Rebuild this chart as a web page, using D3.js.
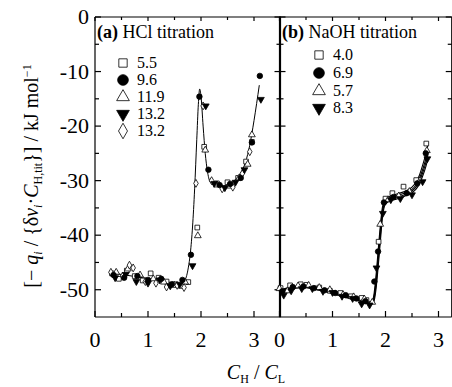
<!DOCTYPE html>
<html>
<head>
<meta charset="utf-8">
<script src="https://cdn.jsdelivr.net/npm/d3@7"></script>
<style>
  body { margin: 0; background: #fff; }
  svg, svg text { font-family: "Liberation Serif", "Times New Roman", Times, serif; }
  text { fill: #000; }
</style>
</head>
<body>
<div id="chart"></div>
<script>
// ---- data ----
const yTicks = [0, -10, -20, -30, -40, -50];
const xTicks = [0, 1, 2, 3];

// (a) HCl titration
const hclLegend = ["5.5", "9.6", "11.9", "13.2", "13.2"];
const hclFitX = [0.3, 0.5, 0.7, 0.9, 1.1, 1.3, 1.5, 1.62, 1.7, 1.76, 1.8, 1.84, 1.88, 1.92, 1.95, 1.975, 2.0, 2.04, 2.08, 2.12, 2.17, 2.25, 2.35, 2.45, 2.55, 2.65, 2.75, 2.84, 2.92, 3.0, 3.1];
const hclFitY = [-47.0, -47.2, -47.5, -47.8, -48.1, -48.4, -48.8, -48.9, -48.2, -46.0, -43.2, -38.5, -31.5, -22.5, -16.0, -13.2, -14.5, -20.0, -25.0, -28.2, -30.2, -30.9, -31.1, -30.9, -30.5, -29.8, -28.6, -26.6, -23.5, -19.0, -12.5];

const hclSqX = [0.32, 0.45, 0.6, 0.75, 0.9, 1.05, 1.2, 1.35, 1.5, 1.62, 1.76, 1.93, 2.06, 2.3, 2.5, 2.7, 2.85, 2.96];
const hclSqY = [-47.0, -48.0, -46.5, -47.5, -48.3, -47.0, -47.8, -48.5, -49.0, -49.3, -48.6, -38.6, -23.8, -30.5, -30.3, -29.5, -26.5, -22.9];
const hclCircX = [0.35, 0.55, 0.8, 1.0, 1.25, 1.45, 1.65, 1.81, 1.97, 2.14, 2.35, 2.55, 2.75, 2.96, 3.11];
const hclCircY = [-47.3, -47.8, -47.5, -48.2, -48.0, -49.0, -48.2, -43.6, -14.6, -28.0, -30.8, -30.6, -29.5, -23.0, -10.8];
const hclTriX = [0.4, 0.62, 0.85, 1.1, 1.3, 1.5, 1.7, 1.94, 2.08, 2.3, 2.52, 2.72, 2.88, 2.96];
const hclTriY = [-46.8, -46.2, -47.3, -48.0, -48.6, -49.2, -48.6, -40.1, -24.4, -30.8, -31.0, -29.5, -27.0, -21.6];
const hclDownX = [0.38, 0.58, 0.78, 1.0, 1.22, 1.42, 1.6, 1.84, 2.09, 2.25, 2.45, 2.65, 2.82, 3.13];
const hclDownY = [-47.8, -47.2, -48.5, -48.8, -48.2, -49.3, -49.0, -45.6, -16.3, -30.5, -31.3, -30.3, -28.0, -15.1];
const hclDiaX = [0.3, 0.52, 0.65, 0.72, 0.95, 1.15, 1.35, 1.55, 1.68, 1.905, 2.04, 2.2, 2.4, 2.6, 2.78, 2.92];
const hclDiaY = [-46.8, -47.5, -45.5, -46.0, -48.5, -48.8, -49.5, -49.2, -49.6, -30.5, -16.3, -30.0, -31.5, -31.2, -28.7, -24.7];

// (b) NaOH titration
const naohLegend = ["4.0", "6.9", "5.7", "8.3"];
const naohFitX = [0, 0.1, 0.2, 0.3, 0.45, 0.6, 0.8, 1.0, 1.2, 1.4, 1.55, 1.68, 1.74, 1.78, 1.82, 1.86, 1.9, 1.94, 1.98, 2.02, 2.1, 2.2, 2.3, 2.4, 2.5, 2.58, 2.64, 2.7, 2.75, 2.8];
const naohFit1 = [-50.0, -49.8, -49.6, -49.4, -49.3, -49.5, -49.9, -50.4, -51.0, -51.5, -51.9, -52.2, -52.2, -51.0, -47.5, -43.0, -38.5, -35.0, -33.6, -33.2, -32.8, -32.5, -32.2, -31.8, -31.2, -30.2, -29.0, -27.2, -25.5, -23.5];
const naohFit2 = [-50.2, -49.9, -49.7, -49.5, -49.4, -49.6, -50.0, -50.5, -51.1, -51.6, -52.0, -52.3, -52.4, -51.5, -48.5, -44.0, -39.5, -35.6, -34.0, -33.5, -33.1, -32.8, -32.5, -32.1, -31.6, -30.7, -29.6, -28.0, -26.4, -24.5];
const naohFit3 = [-50.3, -50.0, -49.8, -49.6, -49.5, -49.7, -50.1, -50.6, -51.2, -51.7, -52.1, -52.4, -52.5, -51.9, -49.2, -45.0, -40.5, -36.2, -34.3, -33.8, -33.4, -33.1, -32.8, -32.4, -31.9, -31.1, -30.1, -28.6, -27.1, -25.3];
const naohFit4 = [-50.5, -50.2, -49.9, -49.7, -49.6, -49.8, -50.2, -50.7, -51.3, -51.8, -52.2, -52.5, -52.6, -52.2, -50.0, -46.0, -41.5, -37.0, -34.7, -34.1, -33.7, -33.4, -33.1, -32.7, -32.2, -31.5, -30.6, -29.2, -27.8, -26.0];

const naohSqX = [0.02, 0.2, 0.4, 0.51, 0.75, 0.95, 1.15, 1.35, 1.55, 1.64, 1.87, 2.0, 2.13, 2.34, 2.58, 2.77];
const naohSqY = [-49.7, -49.2, -49.0, -49.1, -49.6, -50.2, -50.6, -51.2, -51.5, -51.9, -41.2, -33.3, -32.3, -31.1, -29.9, -23.2];
const naohCircX = [0.05, 0.25, 0.45, 0.65, 0.85, 1.05, 1.25, 1.45, 1.62, 1.79, 1.86, 1.97, 2.15, 2.4, 2.6, 2.76];
const naohCircY = [-50.3, -49.5, -49.4, -49.7, -50.1, -50.6, -51.0, -51.6, -52.1, -48.5, -43.0, -34.0, -33.0, -32.3, -30.5, -25.0];
const naohTriX = [0.0, 0.15, 0.35, 0.55, 0.75, 0.95, 1.2, 1.4, 1.6, 1.75, 1.9, 2.05, 2.25, 2.45, 2.65, 2.78];
const naohTriY = [-49.8, -50.2, -49.3, -49.2, -49.6, -50.0, -50.9, -51.3, -51.7, -52.3, -38.0, -33.5, -32.8, -32.0, -30.0, -24.5];
const naohDownX = [0.08, 0.22, 0.42, 0.62, 0.82, 1.0, 1.18, 1.38, 1.55, 1.7, 1.83, 1.95, 2.1, 2.28, 2.5, 2.7, 2.79];
const naohDownY = [-51.0, -50.2, -49.8, -49.8, -50.3, -50.5, -51.2, -51.6, -52.6, -52.8, -46.0, -36.0, -33.5, -33.3, -32.6, -30.2, -26.0];

// ---- layout ----
const width = 452, height = 387;
const plotTop = 17, plotBottom = 317;
const svg = d3.select("#chart").append("svg")
    .attr("width", width)
    .attr("height", height)
    .attr("font-family", "'Liberation Serif', 'Times New Roman', Times, serif");

const y = d3.scaleLinear().domain([-55, 0]).range([plotBottom, plotTop]);
const xA = d3.scaleLinear().domain([0, 3.5]).range([95, 280.5]);
const xB = d3.scaleLinear().domain([0, 3.25]).range([279.5, 451.75]);

// marker shapes
const shapes = {
  square:  {type: d3.symbolSquare,   fill: "#fff", rot: 0},
  circle:  {type: d3.symbolCircle,   fill: "#000", rot: 0},
  tri:     {type: d3.symbolTriangle, fill: "#fff", rot: 0},
  down:    {type: d3.symbolTriangle, fill: "#000", rot: 180},
  diamond: {type: d3.symbolDiamond,  fill: "#fff", rot: 0}
};

function drawMarkers(g, x, xs, ys, shape, size) {
  const s = shapes[shape];
  g.selectAll(null)
      .data(xs.map((d, i) => [d, ys[i]]))
    .enter().append("path")
      .attr("d", d3.symbol().type(s.type).size(size))
      .attr("transform", d => `translate(${x(d[0])},${y(d[1])}) rotate(${s.rot})`)
      .attr("fill", s.fill)
      .attr("stroke", "#000")
      .attr("stroke-width", 0.8);
}

function drawFrame(x, leftLabels) {
  const [x0, x1] = x.range();
  const g = svg.append("g");
  // frame lines
  g.append("line").attr("x1", x0).attr("x2", x1).attr("y1", plotBottom).attr("y2", plotBottom);
  g.append("line").attr("x1", x0).attr("x2", x1).attr("y1", plotTop).attr("y2", plotTop);
  g.append("line").attr("x1", x0).attr("x2", x0).attr("y1", plotTop).attr("y2", plotBottom);
  g.append("line").attr("x1", x1).attr("x2", x1).attr("y1", plotTop).attr("y2", plotBottom);

  // x ticks (inside, bottom and top)
  const xMinor = d3.range(0.5, x.domain()[1], 1);
  xTicks.forEach(t => {
    g.append("line").attr("x1", x(t)).attr("x2", x(t)).attr("y1", plotBottom).attr("y2", plotBottom - 6);
    g.append("line").attr("x1", x(t)).attr("x2", x(t)).attr("y1", plotTop).attr("y2", plotTop + 4);
  });
  xMinor.forEach(t => {
    g.append("line").attr("x1", x(t)).attr("x2", x(t)).attr("y1", plotBottom).attr("y2", plotBottom - 4);
    g.append("line").attr("x1", x(t)).attr("x2", x(t)).attr("y1", plotTop).attr("y2", plotTop + 3);
  });
  // y ticks (inside, left and right)
  const yMinor = [-5, -15, -25, -35, -45];
  yTicks.concat(yMinor).forEach(t => {
    const len = yTicks.includes(t) ? 6 : 4;
    g.append("line").attr("x1", x0).attr("x2", x0 + len).attr("y1", y(t)).attr("y2", y(t));
    g.append("line").attr("x1", x1).attr("x2", x1 - len).attr("y1", y(t)).attr("y2", y(t));
  });
  g.selectAll("line").attr("stroke", "#000").attr("stroke-width", 1.2);

  g.selectAll(".xl")
      .data(xTicks)
    .enter().append("text")
      .attr("class", "xl")
      .attr("x", d => x(d))
      .attr("y", 347)
      .attr("text-anchor", "middle")
      .style("font-size", "22px")
      .text(d => d);

  if (leftLabels) {
    g.selectAll(".yl")
        .data(yTicks)
      .enter().append("text")
        .attr("class", "yl")
        .attr("x", x0 - 6)
        .attr("y", d => y(d) + 7)
        .attr("text-anchor", "end")
        .style("font-size", "22px")
        .text(d => d);
  }
}

drawFrame(xA, true);
drawFrame(xB, false);

const line = x => d3.line().x(d => x(d[0])).y(d => y(d[1])).curve(d3.curveMonotoneX);

// panel (a)
const gA = svg.append("g");
gA.append("path")
    .datum(hclFitX.map((d, i) => [d, hclFitY[i]]))
    .attr("d", line(xA))
    .attr("fill", "none")
    .attr("stroke", "#000")
    .attr("stroke-width", 1);
drawMarkers(gA, xA, hclSqX, hclSqY, "square", 22);
drawMarkers(gA, xA, hclTriX, hclTriY, "tri", 20);
drawMarkers(gA, xA, hclDiaX, hclDiaY, "diamond", 18);
drawMarkers(gA, xA, hclCircX, hclCircY, "circle", 24);
drawMarkers(gA, xA, hclDownX, hclDownY, "down", 20);

// panel (b)
const gB = svg.append("g");
[naohFit1, naohFit2, naohFit3, naohFit4].forEach(fy => {
  gB.append("path")
      .datum(naohFitX.map((d, i) => [d, fy[i]]))
      .attr("d", line(xB))
      .attr("fill", "none")
      .attr("stroke", "#000")
      .attr("stroke-width", 1.1);
});
drawMarkers(gB, xB, naohSqX, naohSqY, "square", 22);
drawMarkers(gB, xB, naohTriX, naohTriY, "tri", 20);
drawMarkers(gB, xB, naohCircX, naohCircY, "circle", 24);
drawMarkers(gB, xB, naohDownX, naohDownY, "down", 20);

// legends
function legend(x0, titleX, rows, labels, keys) {
  const g = svg.append("g");
  const title = g.append("text").attr("x", titleX).attr("y", 38).style("font-size", "18px");
  title.append("tspan").attr("font-weight", "bold").text(keys.title);
  title.append("tspan").text(keys.rest);
  labels.forEach((lab, i) => {
    const s = shapes[keys.shapes[i]];
    g.append("path")
        .attr("d", d3.symbol().type(s.type).size(keys.shapes[i] === "circle" ? 90 : 70))
        .attr("transform", `translate(${x0},${rows[i]}) rotate(${s.rot})`)
        .attr("fill", s.fill)
        .attr("stroke", "#000")
        .attr("stroke-width", 0.8);
    g.append("text")
        .attr("x", x0 + 14)
        .attr("y", rows[i] + 5)
        .style("font-size", "16px")
        .text(lab);
  });
}
legend(123, 97, [63, 80, 97, 114, 131], hclLegend,
  {title: "(a)", rest: " HCl titration", shapes: ["square", "circle", "tri", "down", "diamond"]});
legend(319, 282, [55, 73, 91, 108], naohLegend,
  {title: "(b)", rest: " NaOH titration", shapes: ["square", "circle", "tri", "down"]});

// axis titles
const xt = svg.append("text")
    .attr("x", 256)
    .attr("y", 379)
    .attr("text-anchor", "middle")
    .style("font-size", "20px");
xt.append("tspan").attr("font-style", "italic").text("C");
xt.append("tspan").attr("dy", 4).style("font-size", "12px").text("H");
xt.append("tspan").attr("dy", -4).text(" / ");
xt.append("tspan").attr("font-style", "italic").text("C");
xt.append("tspan").attr("dy", 4).style("font-size", "12px").text("L");

const yt = svg.append("text")
    .attr("transform", "translate(38,176) rotate(-90)")
    .attr("text-anchor", "middle")
    .style("font-size", "20px");
yt.append("tspan").text("[− ");
yt.append("tspan").attr("font-style", "italic").text("q");
yt.append("tspan").attr("font-style", "italic").attr("dy", 4).style("font-size", "12px").text("i");
yt.append("tspan").attr("dy", -4).text(" / {δ");
yt.append("tspan").attr("font-style", "italic").text("ν");
yt.append("tspan").attr("font-style", "italic").attr("dy", 4).style("font-size", "12px").text("i");
yt.append("tspan").attr("dy", -4).text("·");
yt.append("tspan").attr("font-style", "italic").text("C");
yt.append("tspan").attr("dy", 4).style("font-size", "12px").text("H,tit");
yt.append("tspan").attr("dy", -4).text("}] / kJ mol");
yt.append("tspan").attr("dy", -7).style("font-size", "12px").text("−1");
</script>
</body>
</html>
